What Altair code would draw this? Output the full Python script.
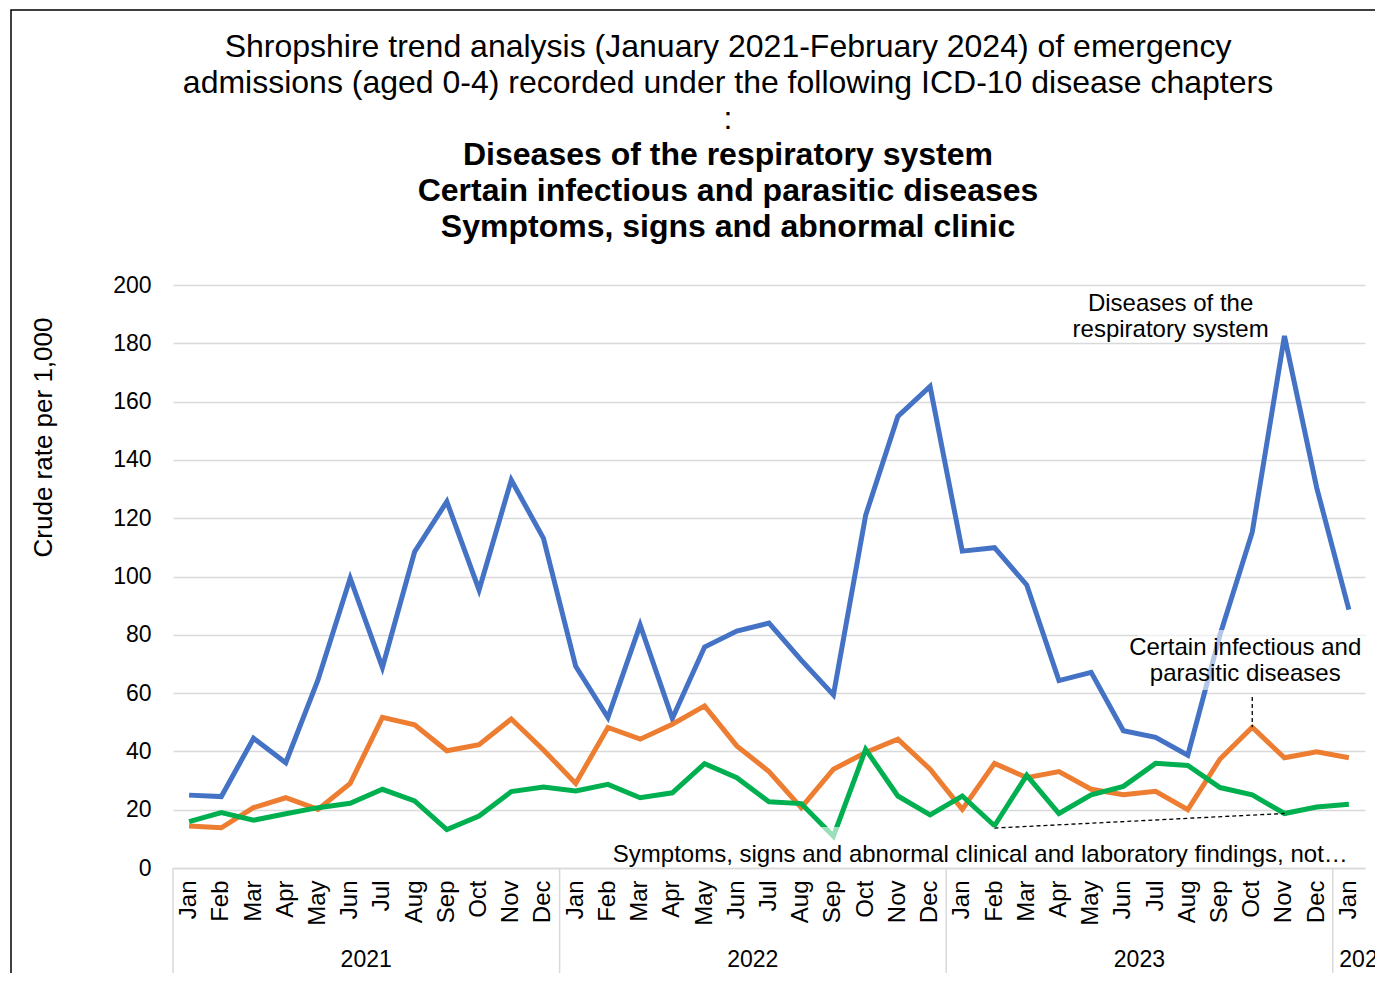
import altair as alt
import pandas as pd

FONT = "Liberation Sans"

month_names = ["Jan", "Feb", "Mar", "Apr", "May", "Jun",
               "Jul", "Aug", "Sep", "Oct", "Nov", "Dec"]
years = [2021, 2022, 2023]
periods = [f"{m} {y}" for y in years for m in month_names] + ["Jan 2024"]

series_names = [
    "Diseases of the respiratory system",
    "Certain infectious and parasitic diseases",
    "Symptoms, signs and abnormal clinical and laboratory findings, not elsewhere classified",
]
series_colors = ["#4472C4", "#ED7D31", "#00B050"]

respiratory = [25.0, 24.5, 44.5, 36.1, 64.5, 99.4, 68.8, 108.5, 125.7, 95.4, 133.1, 113.1,
               69.2, 51.6, 83.4, 51.3, 75.8, 81.3, 84.0, 71.3, 59.4, 121.0, 154.9, 165.2,
               108.7, 109.9, 97.1, 64.3, 67.1, 47.1, 44.8, 38.7, 80.0, 115.2, 182.5, 130.5, 88.6]
infectious = [14.4, 13.8, 20.7, 24.1, 20.1, 29.0, 51.7, 49.1, 40.2, 42.3, 51.1, 40.5,
              29.0, 48.2, 44.2, 49.3, 55.6, 41.9, 33.1, 20.7, 33.9, 39.6, 44.2, 33.9,
              20.1, 35.9, 31.0, 33.1, 27.0, 25.1, 26.3, 20.0, 37.4, 48.3, 37.8, 39.9, 37.8]
symptoms = [15.9, 19.0, 16.4, 18.6, 20.7, 22.2, 27.0, 23.0, 13.2, 17.8, 26.2, 27.8,
            26.4, 28.7, 24.1, 25.8, 35.8, 31.0, 22.7, 22.1, 10.9, 40.7, 24.7, 18.2,
            24.7, 14.5, 31.8, 18.7, 25.1, 28.0, 35.9, 35.2, 27.6, 25.1, 18.7, 20.9, 21.9]

year_labels = ["2021", "2022", "2023", "2024"]
year_label_anchor = ["Jun 2021", "Jun 2022", "Jun 2023", "Jan 2024"]
year_starts = ["Jan 2021", "Jan 2022", "Jan 2023", "Jan 2024"]

title_lines = [
    "Shropshire trend analysis (January 2021-February 2024) of emergency",
    "admissions (aged 0-4) recorded under the following ICD-10 disease chapters",
    ":",
]
subtitle_lines = [
    "Diseases of the respiratory system",
    "Certain infectious and parasitic diseases",
    "Symptoms, signs and abnormal clinic",
]

W, H = 1192, 583

x_scale = alt.Scale(type="band", domain=periods, paddingInner=0, paddingOuter=0)
y_scale = alt.Scale(domain=[0, 200])

x_axis = alt.Axis(title=None, labelExpr="split(datum.value, ' ')[0]", labelAngle=270,
                  labelAlign="right", labelBaseline="middle", labelPadding=12, ticks=False,
                  domainColor="#d9d9d9", domainWidth=1.5, labelFontSize=24, labelColor="black",
                  labelOverlap=False, grid=False, labelFont=FONT)
y_axis = alt.Axis(title="Crude rate per 1,000", values=list(range(0, 201, 20)), domain=False,
                  ticks=False, labelPadding=22, labelFontSize=23, labelColor="black",
                  grid=True, gridColor="#d9d9d9", gridWidth=1.5, titleFontSize=26,
                  titleFontWeight="normal", titleColor="black", titleX=-130, titleY=152,
                  titleAngle=270, titleAlign="center", titleBaseline="middle",
                  labelFont=FONT, titleFont=FONT)

X = alt.X("period:N", scale=x_scale, axis=x_axis)
Y = alt.Y("value:Q", scale=y_scale, axis=y_axis)

layers = []
for name, vals, col in zip(series_names, [respiratory, infectious, symptoms], series_colors):
    d = pd.DataFrame({"period": periods, "value": vals, "series": name})
    layers.append(alt.Chart(d).mark_line(color=col, strokeWidth=5).encode(x=X, y=Y))

one = pd.DataFrame({"a": [0]})

# translucent label boxes
layers.append(alt.Chart(one).mark_rect(color="white", opacity=0.6).encode(
    x=alt.value(965), x2=alt.value(1192), y=alt.value(345), y2=alt.value(405)))
layers.append(alt.Chart(one).mark_rect(color="white", opacity=0.6).encode(
    x=alt.value(437), x2=alt.value(1180), y=alt.value(542), y2=alt.value(580)))

# leader lines
lead1 = pd.DataFrame({"period": ["Oct 2023"], "value": [58.7], "value2": [48.3]})
layers.append(alt.Chart(lead1).mark_rule(color="black", strokeWidth=1.3, strokeDash=[4, 3]).encode(
    x=X, y=Y, y2="value2:Q"))
lead2 = pd.DataFrame({"period": ["Feb 2023"], "period2": ["Nov 2023"], "value": [13.7], "value2": [18.7]})
layers.append(alt.Chart(lead2).mark_rule(color="black", strokeWidth=1.3, strokeDash=[4, 3]).encode(
    x=X, x2="period2:N", y=Y, y2="value2:Q"))

# annotation labels
ann = [
    ("Jul 2023", 193.5, "Diseases of the\nrespiratory system", 15),
    ("Oct 2023", 75.5, "Certain infectious and\nparasitic diseases", -7),
    ("Jan 2023", 4.5, "Symptoms, signs and abnormal clinical and laboratory findings, not\u2026", 18),
]
for per, val, txt, dx in ann:
    d = pd.DataFrame({"period": [per], "value": [val], "label": [txt]})
    layers.append(alt.Chart(d).mark_text(
        dx=dx, align="center", baseline="middle", fontSize=24, lineHeight=26,
        lineBreak="\n", color="black", font=FONT).encode(x=X, y=Y, text="label:N"))

# year separators and labels
sep = pd.DataFrame({"period": year_starts})
layers.append(alt.Chart(sep).mark_rule(color="#d9d9d9", strokeWidth=1.5).encode(
    x=alt.X("period:N", scale=x_scale, axis=x_axis, bandPosition=0),
    y=alt.value(H), y2=alt.value(H + 110)))
yl = pd.DataFrame({"period": year_label_anchor, "label": year_labels})
layers.append(alt.Chart(yl).mark_text(
    dx=16, align="center", baseline="middle", fontSize=23, color="black", font=FONT).encode(
    x=X, y=alt.value(H + 92), text="label:N"))

# chart title (normal lines then bold lines)
title_y = [-238, -202, -166]
sub_y = [-130, -94, -58]
for txt, yy in zip(title_lines, title_y):
    d = pd.DataFrame({"t": [txt]})
    layers.append(alt.Chart(d).mark_text(
        align="center", baseline="middle", fontSize=32, color="black", font=FONT).encode(
        x=alt.value(555), y=alt.value(yy), text="t:N"))
for txt, yy in zip(subtitle_lines, sub_y):
    d = pd.DataFrame({"t": [txt]})
    layers.append(alt.Chart(d).mark_text(
        align="center", baseline="middle", fontSize=32, fontWeight="bold", color="black",
        font=FONT).encode(x=alt.value(555), y=alt.value(yy), text="t:N"))

# outer frame
layers.append(alt.Chart(one).mark_rect(fill="white", fillOpacity=0, stroke="black", strokeWidth=1.5).encode(
    x=alt.value(-162), x2=alt.value(W + 300), y=alt.value(-275), y2=alt.value(H + 300)))

chart = alt.layer(*layers).properties(
    width=W, height=H,
    background="white",
    autosize=alt.AutoSizeParams(type="none"),
    padding={"left": 165, "top": 277, "right": 10, "bottom": 105},
).configure_view(stroke="transparent", strokeWidth=0)

chart.save("out.html", embed_options={"renderer": "svg", "actions": False})
